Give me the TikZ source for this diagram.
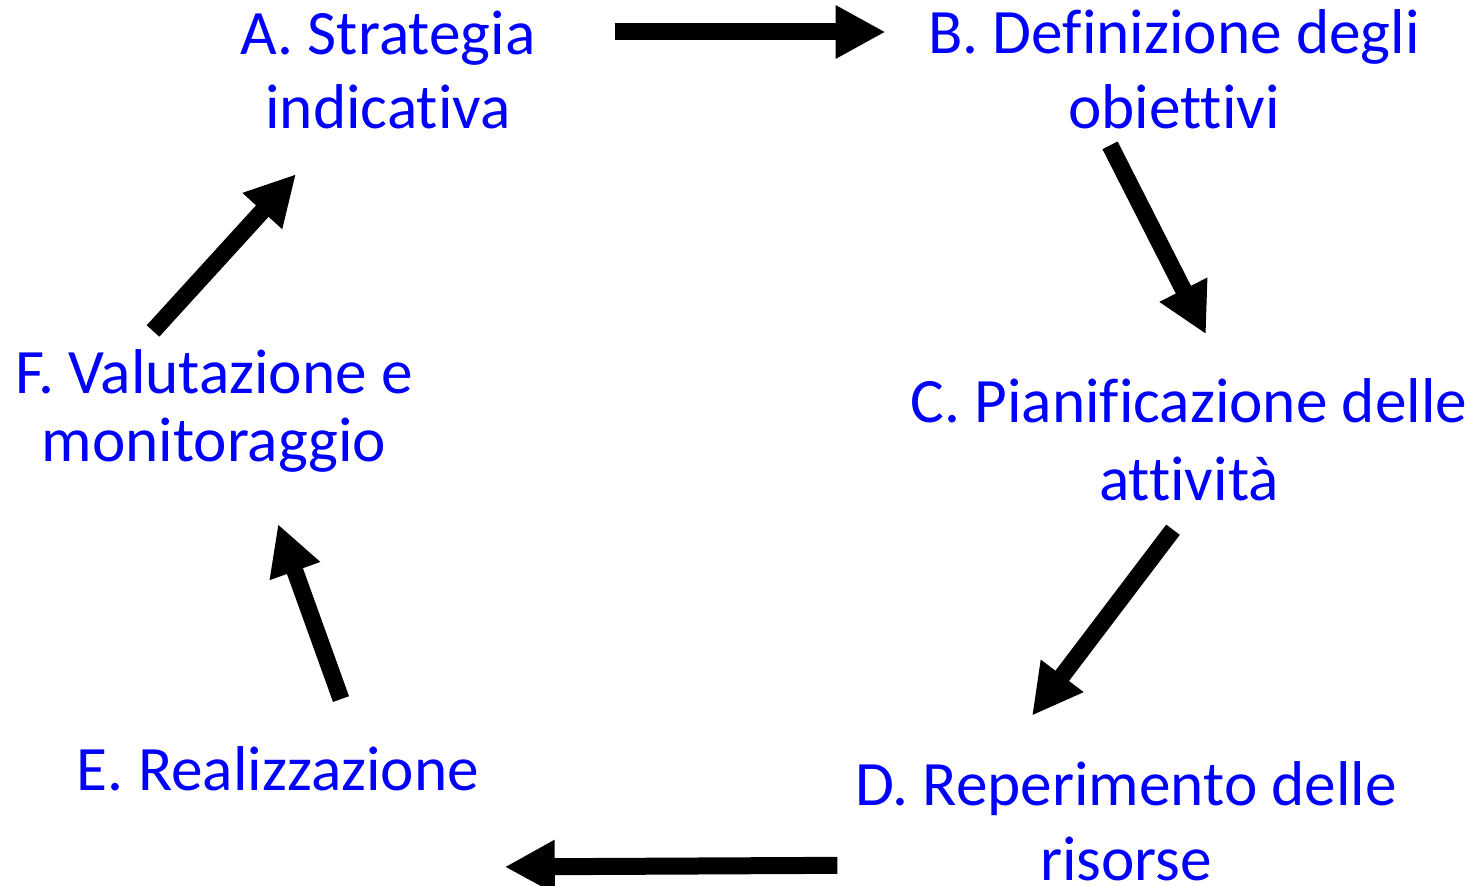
\documentclass[tikz,border=0pt]{standalone}
\usepackage{fontspec}
\setmainfont{Carlito}[Ligatures=NoCommon]
\usetikzlibrary{arrows.meta,positioning}
\tikzset{
  stage/.style={inner sep=0pt,align=center,text=blue,font=\fontsize{18pt}{21.3pt}\selectfont},
  flow/.style={-{Triangle[length=5mm,width=5mm]},line width=1.7mm,black}
}

\begin{document}
\begin{tikzpicture}[x=0.1mm,y=-0.1mm]
  \useasboundingbox (0,0) rectangle (1483,886);
  % Stages of the cycle
  \node[stage] (strat) at (388,70) {A. Strategia\\indicativa};
  \node[stage] (defin) at (1174,69) {B. Definizione degli\\obiettivi};
  \node[stage] (pianif) at (1189,440) {C. Pianificazione delle\\[0.8pt]attività};
  \node[stage] (reper) at (1126,821) {D. Reperimento delle\\risorse};
  \node[stage] (realiz) at (278,769) {E. Realizzazione};
  \node[stage] (valut) at (214,411) {F. Valutazione e\\[-2pt]monitoraggio};

  % Arrows around the cycle
  \draw[flow] ([shift={(79,-38)}]strat.east) -- ([shift={(-42,-37)}]defin.west);
  \draw[flow] ([shift={(-64,16)}]defin.south) -- ([shift={(17,-44)}]pianif.north);
  \draw[flow] ([shift={(-16,28)}]pianif.south) -- ([shift={(-94,-45)}]reper.north);
  \draw[flow] ([shift={(-17,-16)}]reper.south west) -- ([shift={(25,75)}]realiz.south east);
  \draw[flow] ([shift={(63,-47)}]realiz.north) -- ([shift={(64,51)}]valut.south);
  \draw[flow] ([shift={(-61,-18)}]valut.north) -- ([shift={(-92,44)}]strat.south);
\end{tikzpicture}
\end{document}
